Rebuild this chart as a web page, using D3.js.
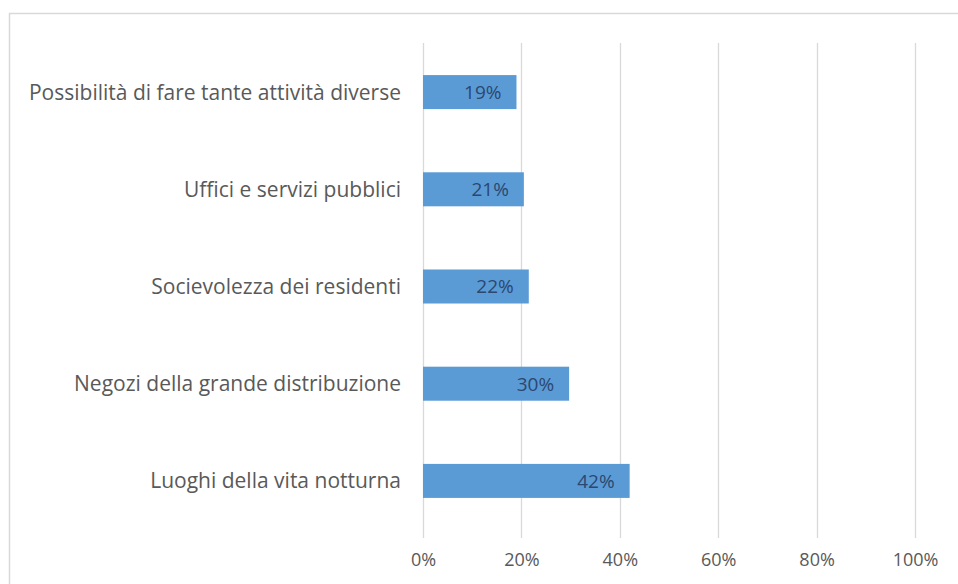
<!DOCTYPE html>
<html><head><meta charset="utf-8">
<script src="https://cdn.jsdelivr.net/npm/d3@7"></script>
<style>body{margin:0;background:#fff;} svg{display:block;}</style>
</head><body>
<script>
const categories = ["Possibilità di fare tante attività diverse","Uffici e servizi pubblici","Socievolezza dei residenti","Negozi della grande distribuzione","Luoghi della vita notturna"];
const values = [0.19, 0.205, 0.215, 0.297, 0.42];
const valueLabels = ["19%","21%","22%","30%","42%"];
const tickValues = [0, 0.2, 0.4, 0.6, 0.8, 1.0];

const W = 958, H = 584;
const svg = d3.select("body").append("svg").attr("width", W).attr("height", H);
const font = "'Open Sans', sans-serif";

svg.append("rect").attr("x", 9.5).attr("y", 13.5).attr("width", W + 10).attr("height", H + 10)
  .attr("fill", "#fff").attr("stroke", "#d9d9d9").attr("stroke-width", 1.5);

const x = d3.scaleLinear().domain([0, 1]).range([423, 915]);
const y = d3.scaleBand().domain(categories).range([43, 530]).paddingInner(0.65).paddingOuter(0.33);

// gridlines
svg.append("g").selectAll("line").data(tickValues).join("line")
  .attr("x1", d => Math.round(x(d)) + 0.5).attr("x2", d => Math.round(x(d)) + 0.5)
  .attr("y1", 43).attr("y2", 538)
  .attr("stroke", "#d9d9d9").attr("stroke-width", 1.3);

// bars
svg.append("g").selectAll("rect").data(values).join("rect")
  .attr("x", x(0)).attr("y", (d, i) => y(categories[i]))
  .attr("width", d => x(d) - x(0)).attr("height", y.bandwidth())
  .attr("fill", "#5b9bd5");

// value labels
svg.append("g").selectAll("text").data(values).join("text")
  .attr("x", d => x(d) - 15).attr("y", (d, i) => y(categories[i]) + y.bandwidth() / 2)
  .attr("dy", "0.36em").attr("text-anchor", "end")
  .attr("font-family", font).attr("font-size", 19).attr("fill", "#2c4770")
  .text((d, i) => valueLabels[i]);

// category labels
svg.append("g").selectAll("text").data(categories).join("text")
  .attr("x", 401).attr("y", d => y(d) + y.bandwidth() / 2)
  .attr("dy", "0.36em").attr("text-anchor", "end")
  .attr("font-family", font).attr("font-size", 21).attr("fill", "#595959")
  .text(d => d);

// x axis tick labels
const xAxis = d3.axisBottom(x).tickValues(tickValues).tickFormat(d3.format(".0%")).tickSize(0).tickPadding(0);
const ax = svg.append("g").attr("transform", "translate(0,553)").call(xAxis);
ax.select(".domain").remove();
ax.selectAll("text").attr("font-family", font).attr("font-size", 18).attr("fill", "#595959");
</script>
</body></html>
